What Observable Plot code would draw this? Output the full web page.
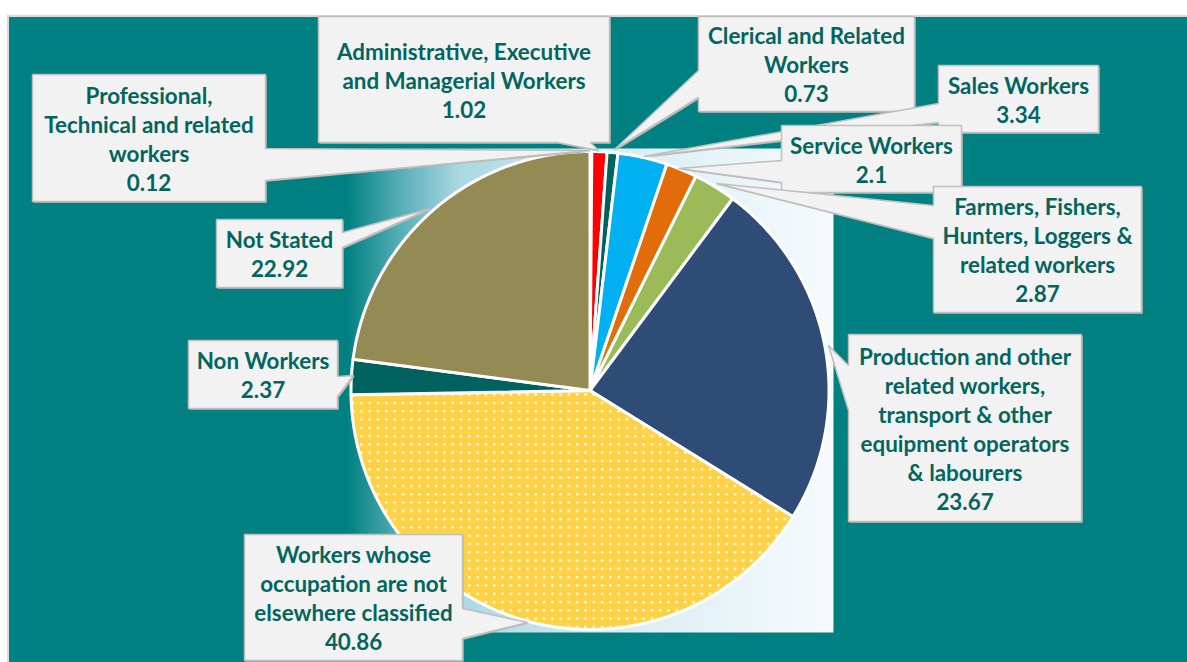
<!DOCTYPE html>
<html><head><meta charset="utf-8">
<script src="https://cdn.jsdelivr.net/npm/d3@7"></script>
<script src="https://cdn.jsdelivr.net/npm/@observablehq/plot@0.6"></script>
<style>
html,body{margin:0;padding:0;background:#fff;}
#wrap{position:relative;width:1187px;height:662px;overflow:hidden;}
#panel{position:absolute;left:7px;top:15px;width:1200px;height:680px;background:#008080;border:2px solid #D9D9D9;box-sizing:border-box;}
#chart{position:absolute;left:0;top:0;}
</style></head><body>
<div id="wrap"><div id="panel"></div><div id="chart"></div></div>
<script>
// ---------- data ----------
const categories = [
  "Professional, Technical and related workers",
  "Administrative, Executive and Managerial Workers",
  "Clerical and Related Workers",
  "Sales Workers",
  "Service Workers",
  "Farmers, Fishers, Hunters, Loggers & related workers",
  "Production and other related workers, transport & other equipment operators & labourers",
  "Workers whose occupation are not elsewhere classified",
  "Non Workers",
  "Not Stated"
];
const values = [0.12, 1.02, 0.73, 3.34, 2.1, 2.87, 23.67, 40.86, 2.37, 22.92];
const labelText = [
  "Professional,\nTechnical and related\nworkers",
  "Administrative, Executive\nand Managerial Workers",
  "Clerical and Related\nWorkers",
  "Sales Workers",
  "Service Workers",
  "Farmers, Fishers,\nHunters, Loggers &\nrelated workers",
  "Production and other\nrelated workers,\ntransport & other\nequipment operators\n& labourers",
  "Workers whose\noccupation are not\nelsewhere classified",
  "Non Workers",
  "Not Stated"
];

// ---------- styles ----------
const sliceFill = ["#4F81BD", "#FF0000", "#00625F", "#00B0F0", "#E36C0A", "#9BBB59", "#2E4C76", "url(#dots)", "#00625F", "#948A54"];
const textColor = "#03655F";

// ---------- layout ----------
const W = 1187, H = 662;
const area = {left: 346, right: 833, top: 148, bottom: 632};
const pie = {cx: 589.5, cy: 390, r: 239};
// callout box [x0,y0,x1,y1], side of the tail, tail base span, tail tip
const callouts = [
  {box: [32, 74, 265, 201], side: "right", base: [148, 180], tip: [590, 150]},
  {box: [318, 16, 609, 142], side: "bottom", base: [557, 590], tip: [598, 150]},
  {box: [698, 16, 914, 111], side: "left", base: [70, 97], tip: [614, 149]},
  {box: [938, 65, 1098, 132], side: "left", base: [103, 122], tip: [643, 156]},
  {box: [781, 125, 961, 192], side: "left", base: [160, 182], tip: [678, 168]},
  {box: [933, 186, 1141, 312], side: "left", base: [205, 238], tip: [716, 183]},
  {box: [848, 334, 1081, 521], side: "left", base: [365, 410], tip: [828, 345]},
  {box: [244, 534, 462, 660], side: "right", base: [608, 638], tip: [527, 622]},
  {box: [188, 340, 337, 408], side: "right", base: [376, 396], tip: [353, 375]},
  {box: [216, 219, 342, 287], side: "right", base: [232, 247], tip: [430, 208]}
];

// ---------- geometry from data ----------
const arcs = d3.pie().sort(null).value(d => d)(values);
const slicePts = [];
arcs.forEach((a, i) => {
  const n = Math.max(2, Math.ceil((a.endAngle - a.startAngle) / (Math.PI / 360)));
  slicePts.push({k: i, x: pie.cx, y: pie.cy});
  for (let j = 0; j <= n; j++) {
    const t = a.startAngle + (a.endAngle - a.startAngle) * j / n;
    slicePts.push({k: i, x: pie.cx + pie.r * Math.sin(t), y: pie.cy - pie.r * Math.cos(t)});
  }
  slicePts.push({k: i, x: pie.cx, y: pie.cy});
});

function calloutPolygon(c, k) {
  const [x0, y0, x1, y1] = c.box, [b1, b2] = c.base, [tx, ty] = c.tip;
  let p = [];
  p.push([x0, y0]);
  if (c.side === "top") p.push([b1, y0], [tx, ty], [b2, y0]);
  p.push([x1, y0]);
  if (c.side === "right") p.push([x1, b1], [tx, ty], [x1, b2]);
  p.push([x1, y1]);
  if (c.side === "bottom") p.push([b2, y1], [tx, ty], [b1, y1]);
  p.push([x0, y1]);
  if (c.side === "left") p.push([x0, b2], [tx, ty], [x0, b1]);
  p.push([x0, y0]);
  return p.map(([x, y]) => ({k, x, y}));
}
const calloutPts = callouts.flatMap((c, i) => calloutPolygon(c, i));
const labels = callouts.map((c, i) => ({
  x: (c.box[0] + c.box[2]) / 2,
  y: (c.box[1] + c.box[3]) / 2,
  text: labelText[i] + "\n" + String(values[i])
}));

const defsMark = () => {
  const g = d3.create("svg:g");
  const defs = g.append("defs");
  const lg = defs.append("linearGradient").attr("id", "plotBg").attr("x1", 0).attr("x2", 1).attr("y1", 0).attr("y2", 0);
  [["0%", "#008080"], ["10%", "#4FAAB2"], ["23%", "#AAD8E3"], ["55%", "#D9EDF3"], ["100%", "#F6FAFC"]]
    .forEach(([o, c]) => lg.append("stop").attr("offset", o).attr("stop-color", c));
  const pat = defs.append("pattern").attr("id", "dots").attr("width", 8.3).attr("height", 8.3).attr("patternUnits", "userSpaceOnUse");
  pat.append("rect").attr("width", 8.3).attr("height", 8.3).attr("fill", "#FFD147");
  pat.append("circle").attr("cx", 4).attr("cy", 4).attr("r", 1.25).attr("fill", "#FFFFFF");
  return g.node();
};

const chart = Plot.plot({
  width: W, height: H,
  marginLeft: area.left, marginRight: W - area.right,
  marginTop: area.top, marginBottom: H - area.bottom,
  x: {domain: [area.left, area.right], axis: null},
  y: {domain: [area.top, area.bottom], reverse: true, axis: null},
  color: {type: "identity"},
  style: {background: "transparent", overflow: "visible", fontFamily: "Lato"},
  marks: [
    defsMark,
    Plot.frame({fill: "url(#plotBg)", stroke: "none"}),
    Plot.line(slicePts, {x: "x", y: "y", z: "k", fill: d => sliceFill[d.k], stroke: "#FFFFFF", strokeWidth: 3, strokeLinejoin: "round"}),
    Plot.line(calloutPts, {x: "x", y: "y", z: "k", fill: "#B5B5B5", stroke: "none", dx: 1.2, dy: 1.2}),
    Plot.line(calloutPts, {x: "x", y: "y", z: "k", fill: "#F2F2F2", stroke: "#BFBFBF", strokeWidth: 1.5, strokeLinejoin: "miter"}),
    Plot.text(labels, {x: "x", y: "y", text: "text", fill: textColor, fontSize: 22.4, fontWeight: "bold", lineHeight: 29 / 22.4, fontFamily: "Lato"})
  ]
});
document.getElementById("chart").appendChild(chart);
</script></body></html>
